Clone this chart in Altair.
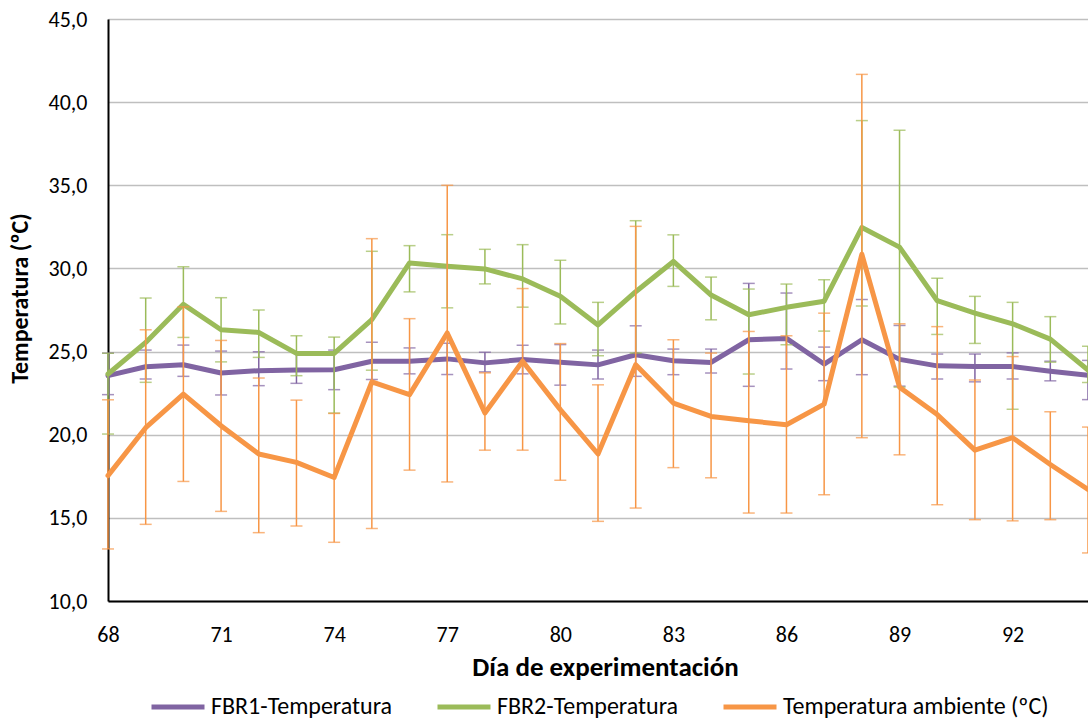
import altair as alt
import pandas as pd

days = list(range(68, 95))

series_names = ["FBR1-Temperatura", "FBR2-Temperatura", "Temperatura ambiente (ºC)"]
series_colors = ["#8064A2", "#9BBB59", "#F79646"]

fbr1_mean = [23.55, 24.09, 24.21, 23.71, 23.85, 23.89, 23.91, 24.42, 24.42, 24.56, 24.32, 24.52, 24.36, 24.20,
             24.81, 24.45, 24.35, 25.71, 25.79, 24.25, 25.71, 24.53, 24.14, 24.10, 24.10, 23.82, 23.57]
fbr1_high = [24.91, 25.09, 25.39, 25.03, 24.99, 24.99, 25.09, 25.56, 25.22, 25.50, 24.96, 25.38, 25.42, 25.09,
             26.55, 25.15, 25.15, 29.10, 28.52, 25.27, 28.13, 26.57, 24.85, 24.85, 24.92, 24.42, 24.47]
fbr1_low = [22.41, 23.35, 23.51, 22.39, 22.95, 23.09, 22.71, 23.32, 23.66, 23.62, 23.78, 23.66, 22.98, 23.35,
            23.51, 23.61, 23.71, 22.91, 23.95, 23.25, 23.61, 22.92, 23.35, 23.18, 23.35, 23.24, 22.11]

fbr2_mean = [23.65, 25.55, 27.84, 26.31, 26.15, 24.89, 24.89, 26.92, 30.33, 30.13, 29.97, 29.37, 28.33, 26.60,
             28.60, 30.42, 28.40, 27.21, 27.66, 28.03, 32.46, 31.28, 28.06, 27.31, 26.67, 25.75, 23.89]
fbr2_high = [24.90, 28.22, 30.10, 28.24, 27.50, 25.95, 25.87, 31.03, 31.37, 32.03, 31.15, 31.43, 30.49, 27.96,
             32.87, 32.02, 29.48, 28.76, 29.06, 29.32, 38.89, 38.31, 29.41, 28.32, 27.96, 27.10, 25.32]
fbr2_low = [20.04, 23.15, 25.85, 24.38, 24.65, 23.55, 21.30, 23.88, 28.59, 27.63, 29.07, 27.67, 26.66, 24.75,
            24.91, 28.92, 26.91, 23.65, 25.41, 26.23, 27.74, 22.86, 26.03, 25.49, 21.53, 24.36, 23.14]

amb_mean = [17.54, 20.42, 22.44, 20.54, 18.84, 18.34, 17.43, 23.18, 22.41, 26.12, 21.31, 24.42, 21.51, 18.84,
            24.21, 21.90, 21.10, 20.84, 20.60, 21.84, 30.85, 22.86, 21.21, 19.07, 19.82, 18.21, 16.71]
amb_high = [22.10, 26.31, 27.69, 25.67, 23.41, 22.08, 21.28, 31.79, 26.98, 35.00, 23.72, 28.79, 25.48, 23.00,
            32.53, 25.71, 24.91, 26.21, 25.95, 27.31, 41.67, 26.67, 26.50, 23.29, 24.70, 21.38, 20.46]
amb_low = [13.13, 14.61, 17.19, 15.39, 14.11, 14.51, 13.53, 14.36, 17.87, 17.16, 19.07, 19.07, 17.26, 14.79,
           15.59, 18.02, 17.41, 15.29, 15.29, 16.39, 19.82, 18.79, 15.79, 14.89, 14.82, 14.89, 12.89]

x_tick_values = [68, 71, 74, 77, 80, 83, 86, 89, 92]
y_tick_values = [10, 15, 20, 25, 30, 35, 40, 45]

means = [fbr1_mean, fbr2_mean, amb_mean]
highs = [fbr1_high, fbr2_high, amb_high]
lows = [fbr1_low, fbr2_low, amb_low]

rows = []
for name, m_list, lo_list, hi_list in zip(series_names, means, lows, highs):
    for d, m, lo, hi in zip(days, m_list, lo_list, hi_list):
        rows.append({"dia": d, "serie": name, "media": m, "inf": lo, "sup": hi})
df = pd.DataFrame(rows)

FONT = "Carlito, Lato, sans-serif"

x_axis = alt.Axis(
    values=x_tick_values, format="d", title="Día de experimentación",
    grid=False, ticks=False, domainColor="#000000", domainWidth=2,
    labelFont=FONT, labelFontSize=22, labelColor="#000000", labelPadding=23,
    titleFont=FONT, titleFontSize=27, titleFontWeight="bold", titleColor="#000000",
    titlePadding=9, titleX=497, labelFlush=False,
)
y_axis = alt.Axis(
    values=y_tick_values, title="Temperatura (ºC)",
    labelExpr="replace(format(datum.value, '.1f'), '.', ',')",
    grid=True, gridColor="#BFBFBF", gridWidth=1.3, ticks=False,
    domainColor="#000000", domainWidth=2,
    labelFont=FONT, labelFontSize=22, labelColor="#000000", labelPadding=21,
    titleFont=FONT, titleFontSize=24, titleFontWeight="bold", titleColor="#000000",
    titlePadding=16, titleY=279,
)
x_scale = alt.Scale(domain=[68, 94], nice=False, zero=False)
y_scale = alt.Scale(domain=[10, 45], nice=False, zero=False)

color_enc = alt.Color(
    "serie:N",
    scale=alt.Scale(domain=series_names, range=series_colors),
    sort=series_names,
    legend=alt.Legend(
        orient="none", legendX=41, legendY=659, direction="horizontal", columns=3,
        title=None, symbolType="stroke", symbolSize=2809, symbolStrokeWidth=5,
        labelFont=FONT, labelFontSize=24, labelColor="#000000", labelOffset=4,
        columnPadding=34, labelLimit=400,
    ),
)

layers = []
for name, col in zip(series_names, series_colors):
    base = alt.Chart(df).transform_filter(alt.datum.serie == name)
    rule = base.mark_rule(color=col, strokeWidth=1.5).encode(
        x=alt.X("dia:Q", scale=x_scale, axis=x_axis),
        y=alt.Y("inf:Q", scale=y_scale, axis=y_axis),
        y2="sup:Q",
    )
    tick_lo = base.mark_tick(color=col, orient="horizontal", size=12, thickness=1.5).encode(
        x=alt.X("dia:Q", scale=x_scale, axis=x_axis),
        y=alt.Y("inf:Q", scale=y_scale, axis=y_axis),
    )
    tick_hi = base.mark_tick(color=col, orient="horizontal", size=12, thickness=1.5).encode(
        x=alt.X("dia:Q", scale=x_scale, axis=x_axis),
        y=alt.Y("sup:Q", scale=y_scale, axis=y_axis),
    )
    line = base.mark_line(strokeWidth=5, strokeJoin="round", strokeCap="round").encode(
        x=alt.X("dia:Q", scale=x_scale, axis=x_axis),
        y=alt.Y("media:Q", scale=y_scale, axis=y_axis),
        color=color_enc,
    )
    layers += [rule, tick_lo, tick_hi, line]

chart = alt.layer(*layers).properties(
    width=980, height=582,
    autosize=alt.AutoSizeParams(type="none"),
    padding={"left": 108, "top": 19, "right": 0, "bottom": 119},
).configure_view(stroke=None).configure(background="#FFFFFF")

chart.save("out.html", embed_options={"renderer": "svg", "actions": False})
